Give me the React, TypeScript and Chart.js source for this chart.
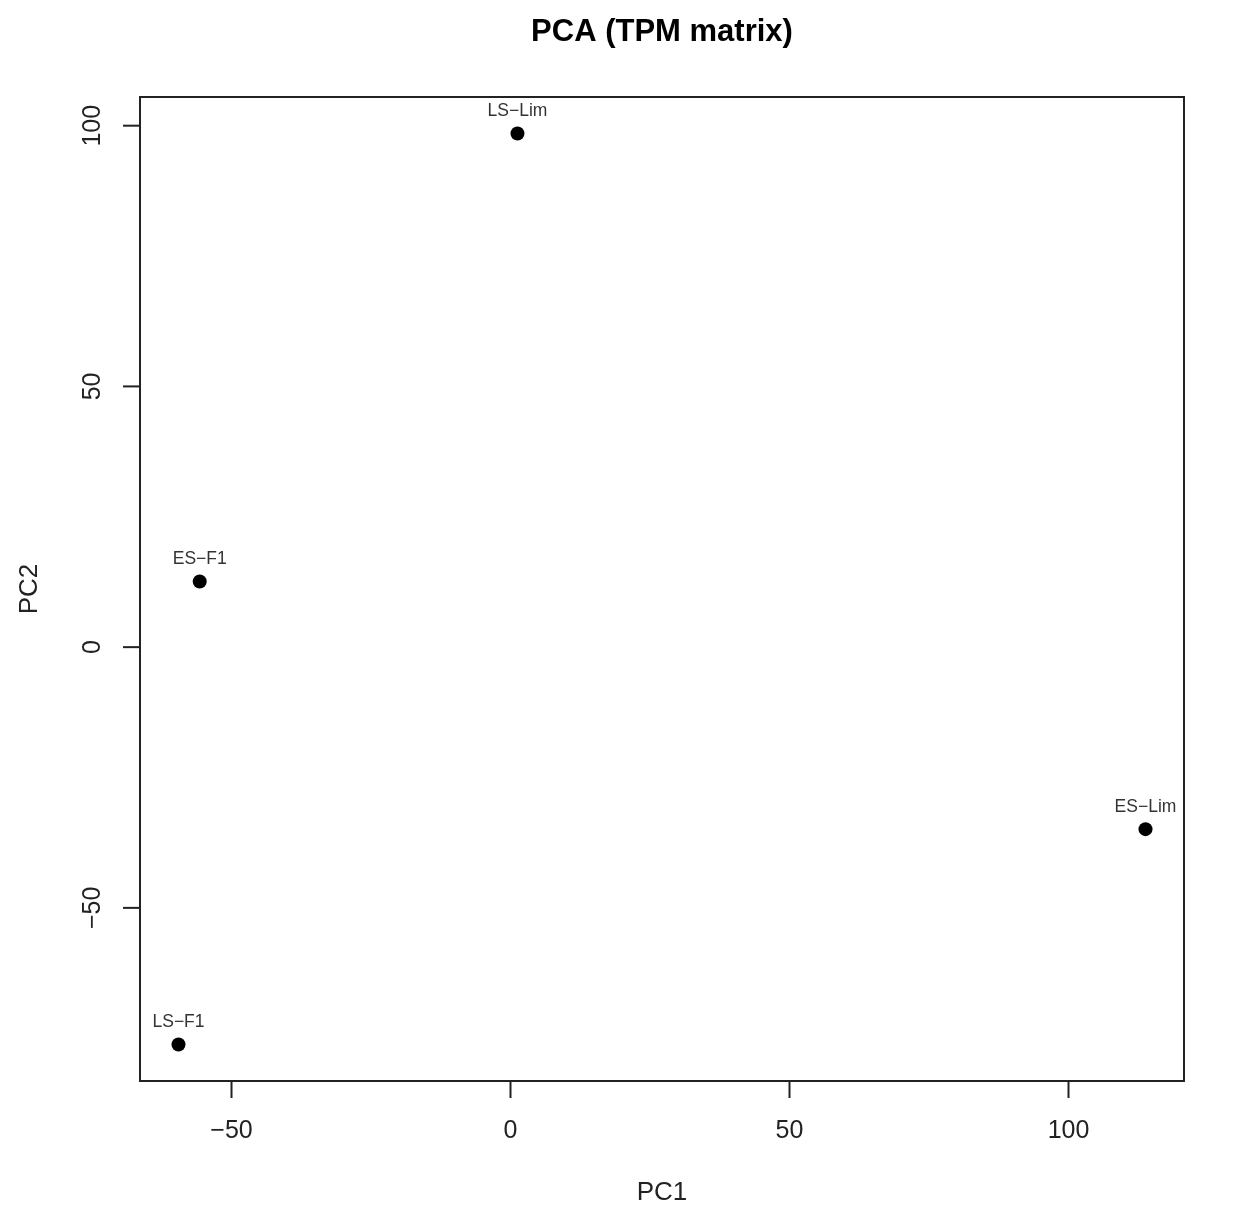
import React, { useEffect, useRef } from "react";
import { Chart, registerables } from "chart.js";

Chart.register(...registerables);

const sampleNames = ["LS\u2212Lim", "ES\u2212F1", "ES\u2212Lim", "LS\u2212F1"];
const pc1Values = [1.25, -55.7, 113.8, -59.5];
const pc2Values = [98.5, 12.6, -34.9, -76.2];
const xTickValues = [-50, 0, 50, 100];
const xTickLabels = ["\u221250", "0", "50", "100"];
const yTickValues = [-50, 0, 50, 100];
const yTickLabels = ["\u221250", "0", "50", "100"];
const chartTitle = "PCA (TPM matrix)";
const xTitle = "PC1";
const yTitle = "PC2";

const W = 1244;
const H = 1223;
const FONT = '"Liberation Sans", Arial, sans-serif';

export default function App() {
  const ref = useRef<HTMLCanvasElement | null>(null);
  useEffect(() => {
    if (!ref.current) return;
    const rPlot = {
      id: "rPlot",
      afterDraw(chart: any) {
        const ctx = chart.ctx;
        const a = chart.chartArea;
        const xs = chart.scales.x;
        const ys = chart.scales.y;
        ctx.save();
        // box
        ctx.strokeStyle = "#222";
        ctx.lineWidth = 2;
        ctx.strokeRect(a.left, a.top, a.right - a.left, a.bottom - a.top);
        // x ticks
        ctx.fillStyle = "#222";
        ctx.font = `25px ${FONT}`;
        ctx.textAlign = "center";
        ctx.textBaseline = "middle";
        xTickValues.forEach((v, i) => {
          const px = xs.getPixelForValue(v);
          ctx.beginPath();
          ctx.moveTo(px, a.bottom);
          ctx.lineTo(px, a.bottom + 17);
          ctx.stroke();
          ctx.fillText(xTickLabels[i], px, a.bottom + 50);
        });
        // y ticks
        yTickValues.forEach((v, i) => {
          const py = ys.getPixelForValue(v);
          ctx.beginPath();
          ctx.moveTo(a.left - 17, py);
          ctx.lineTo(a.left, py);
          ctx.stroke();
          ctx.save();
          ctx.translate(a.left - 47, py);
          ctx.rotate(-Math.PI / 2);
          ctx.fillText(yTickLabels[i], 0, 0);
          ctx.restore();
        });
        // axis titles
        const cx = (a.left + a.right) / 2;
        const cy = (a.top + a.bottom) / 2;
        ctx.font = `26px ${FONT}`;
        ctx.fillText(xTitle, cx, 1193);
        ctx.save();
        ctx.translate(30, cy);
        ctx.rotate(-Math.PI / 2);
        ctx.fillText(yTitle, 0, 0);
        ctx.restore();
        // main title
        ctx.fillStyle = "#000";
        ctx.font = `bold 31px ${FONT}`;
        ctx.fillText(chartTitle, cx, 32);
        // point labels
        ctx.fillStyle = "#333";
        ctx.font = `17.5px ${FONT}`;
        const meta = chart.getDatasetMeta(0);
        meta.data.forEach((el: any, i: number) => {
          ctx.fillText(sampleNames[i], el.x, el.y - 22);
        });
        ctx.restore();
      },
    };
    const chart = new Chart(ref.current, {
      type: "scatter",
      data: {
        datasets: [
          {
            data: pc1Values.map((x, i) => ({ x, y: pc2Values[i] })),
            backgroundColor: "#000",
            borderColor: "#000",
            pointRadius: 7,
            pointHoverRadius: 7,
            borderWidth: 0,
          },
        ],
      },
      options: {
        responsive: false,
        animation: false,
        events: [],
        layout: { padding: { top: 97, right: 60, left: 0, bottom: 0 } },
        plugins: {
          legend: { display: false },
          tooltip: { enabled: false },
          title: { display: false },
        },
        scales: {
          x: {
            type: "linear",
            min: -66.4,
            max: 120.7,
            grid: { display: false },
            border: { display: false },
            ticks: { display: false },
            afterFit: (s: any) => {
              s.height = H - 1081;
            },
          },
          y: {
            type: "linear",
            min: -83.2,
            max: 105.5,
            grid: { display: false },
            border: { display: false },
            ticks: { display: false },
            afterFit: (s: any) => {
              s.width = 140;
            },
          },
        },
      },
      plugins: [rPlot],
    });
    return () => chart.destroy();
  }, []);
  return (
    <div style={{ position: "absolute", left: 0, top: 0, width: W, height: H, background: "#fff" }}>
      <canvas ref={ref} width={W} height={H} style={{ width: W, height: H, display: "block" }} />
    </div>
  );
}
